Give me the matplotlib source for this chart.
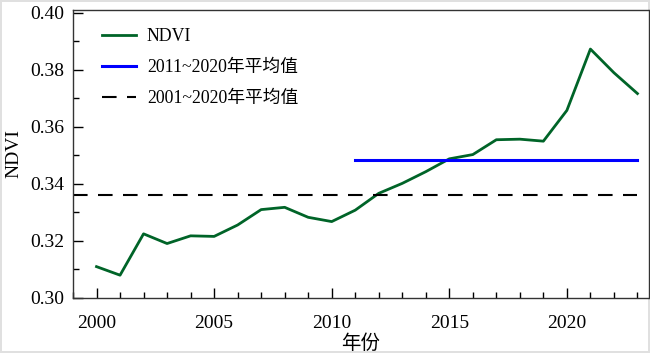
import matplotlib
matplotlib.use("Agg")
import matplotlib.pyplot as plt
from matplotlib.ticker import MultipleLocator

years = list(range(2000, 2024))
ndvi = [0.3110, 0.3080, 0.3225, 0.3191, 0.3218, 0.3216, 0.3256, 0.3310,
        0.3318, 0.3283, 0.3268, 0.3308, 0.3367, 0.3402, 0.3443, 0.3488,
        0.3503, 0.3555, 0.3557, 0.3550, 0.3658, 0.3873, 0.3790, 0.3717]
mean_2011_2020 = 0.3483
mean_2001_2020 = 0.3361
mean_labels = ["NDVI", "2011~2020年平均值", "2001~2020年平均值"]

plt.rcParams['font.family'] = ['Liberation Serif', 'Noto Sans CJK SC']

fig = plt.figure(figsize=(6.5, 3.53), dpi=100)
fig.patch.set_edgecolor('#e0e0e0')
fig.patch.set_linewidth(1.5)
ax = fig.add_axes([73/650, 1 - 298/353, (648.5 - 73)/650, (298 - 10)/353])

ax.plot(years, ndvi, color='#006428', lw=2.0, label=mean_labels[0])
ax.plot([2011, 2023], [mean_2011_2020] * 2, color='#0000ff', lw=2.2, label=mean_labels[1])
ax.plot([1999, 2023], [mean_2001_2020] * 2, color='black', lw=1.5,
        ls=(0, (7, 5)), label=mean_labels[2])

ax.set_xlim(1999, 2023.47)
ax.set_ylim(0.30, 0.401)
ax.xaxis.set_major_locator(MultipleLocator(5))
ax.xaxis.set_minor_locator(MultipleLocator(1))
ax.yaxis.set_minor_locator(MultipleLocator(0.01))
ax.set_yticks([0.30, 0.32, 0.34, 0.36, 0.38, 0.40])
ax.set_yticklabels(["0.30", "0.32", "0.34", "0.36", "0.38", "0.40"])
ax.tick_params(which='major', direction='in', length=7, width=1, labelsize=14)
ax.tick_params(axis='x', pad=12)
ax.tick_params(axis='y', pad=6)
ax.tick_params(which='minor', direction='in', length=4.5, width=1)
ax.tick_params(axis='x', top=False, which='both')
ax.tick_params(axis='y', right=False, which='both')
for s in ax.spines.values():
    s.set_linewidth(1.0)
    s.set_color('#333333')

ax.set_ylabel("NDVI", fontsize=14, labelpad=6)
ax.set_xlabel("年份", fontsize=14, labelpad=2)

leg = ax.legend(loc='upper left', frameon=False, fontsize=12.8, handlelength=1.9,
                handletextpad=0.62, labelspacing=0.78, borderaxespad=0.0,
                borderpad=0.0, bbox_to_anchor=(29/575.5, 1 - 18/288))

fig.savefig("out.png", dpi=100)
